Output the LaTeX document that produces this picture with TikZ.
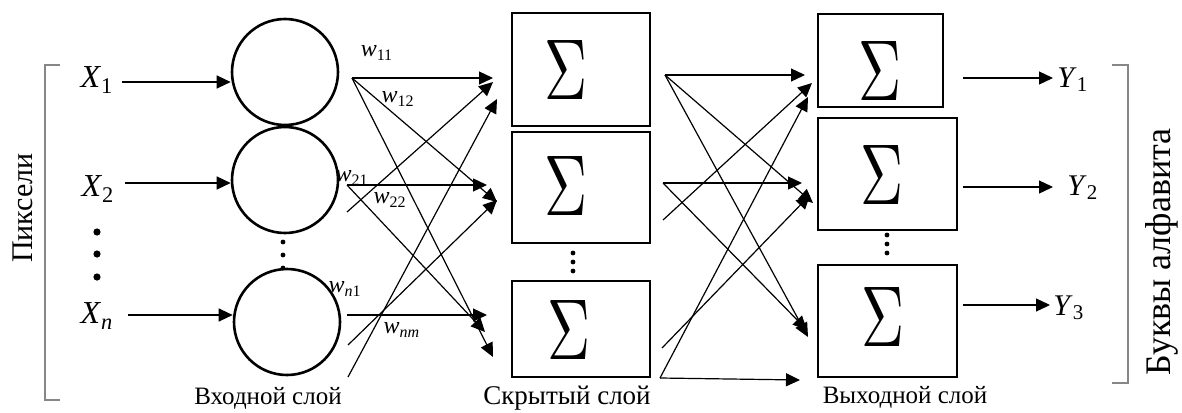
\documentclass[tikz,border=0pt]{standalone}
\usepackage{fontspec}
\setmainfont{Liberation Serif}[ItalicFont={Liberation Serif Italic}]
\usepackage{graphicx}
\usepackage{tikz}
\usetikzlibrary{arrows.meta, positioning, calc}
\definecolor{mygray}{RGB}{135,135,135}
\tikzset{
  neuron/.style={circle, draw, line width=1.3pt, minimum size=53pt, inner sep=0pt},
  sumbox/.style={rectangle, draw, line width=1.3pt, inner sep=0pt},
  sigma/.style={inner sep=0pt},
  arrow/.style={-{Triangle[length=7pt, width=6.5pt]}, line width=0.6pt},
  lab/.style={inner sep=0pt, font=\fontsize{16}{19}\selectfont},
  ylab/.style={inner sep=0pt, anchor=west, font=\fontsize{15}{18}\selectfont},
  wlab/.style={inner sep=0pt, font=\fontsize{12}{14}\selectfont},
  layer/.style={inner sep=0pt, anchor=base, font=\fontsize{12.5}{15}\selectfont},
  side/.style={inner sep=0pt, rotate=90, font=\fontsize{15}{18}\selectfont},
  bracket/.style={draw=mygray, line width=0.7pt}
}
\newcommand{\sig}{\resizebox{21.5pt}{29.5pt}{$\Sigma$}}

\begin{document}
\begin{tikzpicture}[x=0.5pt, y=-0.5pt]
  \useasboundingbox (0,0) rectangle (1182,412);

  % Input side
  \node[side] (pix) at (23,208) {Пиксели};
  \draw[bracket] (60,65) -- (45,65) -- (45,400) -- (60,400);
  \node[lab] (x1) at (97,80) {\textit{X}\textsubscript{1}};
  \node[lab] (x2) at (98,189) {\textit{X}\textsubscript{2}};
  \node[lab] (xn) at (97,316) {\textit{X}\textsubscript{\textit{n}}};
  \foreach \y in {232,254,277} \fill (97,\y) circle (1.8pt);

  % Input layer
  \node[neuron] (c1) at (285,72) {};
  \node[neuron] (c2) at (285,180) {};
  \node[neuron] (c3) at (287,322) {};
  \foreach \y in {242,255,268} \fill (283,\y) circle (1.2pt);
  \node[layer] (inl) at (268,404) {Входной слой};

  \coordinate (i1) at (122,82);
  \coordinate (i2) at (125,183);
  \coordinate (i3) at (128,315);
  \draw[arrow] (i1) -- (i1 -| c1.west);
  \draw[arrow] (i2) -- (i2 -| c2.west);
  \draw[arrow] (i3) -- (i3 -| c3.west);

  % Hidden layer
  \node[sumbox, minimum width=69pt, minimum height=56.5pt] (h1) at (581,69.5) {};
  \node[sumbox, minimum width=69pt, minimum height=55.5pt] (h2) at (581,187.5) {};
  \node[sumbox, minimum width=69pt, minimum height=48pt] (h3) at (581,329) {};
  \node[sigma] (s1) at (566,70) {\sig};
  \node[sigma] (s2) at (566,186) {\sig};
  \node[sigma] (s3) at (569,330) {\sig};
  \foreach \y in {253,262,271} \fill (573,\y) circle (1.2pt);
  \node[layer, font=\fontsize{13.5}{16}\selectfont] (hidl) at (567,404) {Скрытый слой};

  % Output layer
  \node[sumbox, minimum width=62.5pt, minimum height=46.5pt] (o1) at (880.5,60.5) {};
  \node[sumbox, minimum width=69.5pt, minimum height=56pt] (o2) at (887.5,174) {};
  \node[sumbox, minimum width=69.5pt, minimum height=56pt] (o3) at (887.5,321) {};
  \node[sigma] (s4) at (880,71) {\sig};
  \node[sigma] (s5) at (882,175) {\sig};
  \node[sigma] (s6) at (883,317) {\sig};
  \foreach \y in {235,244,253} \fill (887,\y) circle (1.2pt);
  \node[layer] (outl) at (905,403) {Выходной слой};

  % Weights input -> hidden
  \coordinate (p1) at (352,78);
  \coordinate (p2) at (347,185);
  \coordinate (q2) at (347,212);
  \coordinate (p3) at (347,315);
  \coordinate (q3) at (348,345);
  \coordinate (r3) at (348,377);
  \coordinate (a11) at (493,78);
  \coordinate (a21) at (493,82);
  \coordinate (a31) at (497,99);
  \coordinate (a22) at (487,185);
  \coordinate (a12) at (497,202);
  \coordinate (a32) at (497,200);
  \coordinate (a33) at (487,315);
  \coordinate (a23) at (485,332);
  \coordinate (a13) at (493,357);
  \draw[arrow] (p1) -- (a11);
  \draw[arrow] (p1) -- (a12);
  \draw[arrow] (p1) -- (a13);
  \draw[arrow] (q2) -- (a21);
  \draw[arrow] (p2) -- (a22);
  \draw[arrow] (p2) -- (a23);
  \draw[arrow] (r3) -- (a31);
  \draw[arrow] (q3) -- (a32);
  \draw[arrow] (p3) -- (a33);

  \node[wlab] (w11) at (377,53) {\textit{w}\textsubscript{11}};
  \node[wlab] (w12) at (398,99) {\textit{w}\textsubscript{12}};
  \node[wlab] (w21) at (352,178) {\textit{w}\textsubscript{21}};
  \node[wlab] (w22) at (390,200) {\textit{w}\textsubscript{22}};
  \node[wlab] (wn1) at (345,289) {\textit{w}\textsubscript{\textit{n}1}};
  \node[wlab] (wnm) at (402,330) {\textit{w}\textsubscript{\textit{nm}}};

  % Weights hidden -> output
  \coordinate (u1) at (665,75);
  \coordinate (u2) at (663,183);
  \coordinate (v2) at (663,220);
  \coordinate (v3) at (662,348);
  \coordinate (u3) at (660,378);
  \coordinate (b11) at (805,75);
  \coordinate (b12) at (813,203);
  \coordinate (b13) at (808,337);
  \coordinate (b21) at (812,83);
  \coordinate (b22) at (802,183);
  \coordinate (b23) at (807,330);
  \coordinate (b31) at (808,97);
  \coordinate (b32) at (810,195);
  \coordinate (b33) at (800,380);
  \draw[arrow] (u1) -- (b11);
  \draw[arrow] (u1) -- (b12);
  \draw[arrow] (u1) -- (b13);
  \draw[arrow] (v2) -- (b21);
  \draw[arrow] (u2) -- (b22);
  \draw[arrow] (u2) -- (b23);
  \draw[arrow] (u3) -- (b31);
  \draw[arrow] (v3) -- (b32);
  \draw[arrow] (u3) -- (b33);

  % Output side
  \coordinate (e1) at (963,78);
  \coordinate (e2) at (963,187);
  \coordinate (e3) at (963,305);
  \coordinate (f1) at (1053,78);
  \coordinate (f2) at (1053,187);
  \coordinate (f3) at (1050,305);
  \draw[arrow] (e1) -- (f1);
  \draw[arrow] (e2) -- (f2);
  \draw[arrow] (e3) -- (f3);
  \node[ylab] (y1) at (1057,80) {\textit{Y}\textsubscript{1}};
  \node[ylab] (y2) at (1067,188) {\textit{Y}\textsubscript{2}};
  \node[ylab] (y3) at (1053,308) {\textit{Y}\textsubscript{3}};

  \draw[bracket] (1112,65) -- (1128,65) -- (1128,383) -- (1112,383);
  \node[side, font=\fontsize{18}{21}\selectfont] (abc) at (1162,252) {Буквы алфавита};

\end{tikzpicture}
\end{document}
